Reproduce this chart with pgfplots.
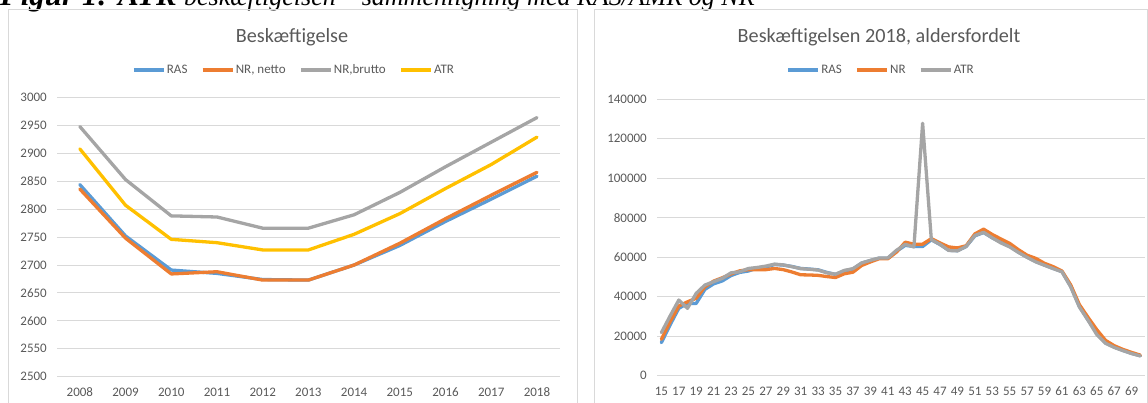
\documentclass[border=0pt]{standalone}
\usepackage{fontspec}
\setmainfont{Carlito}
\newfontfamily\capfont{Liberation Serif}
\usepackage{pgfplots}
\usepackage{pgfplotstable}
\pgfplotsset{compat=1.18}

\definecolor{rasblue}{HTML}{5B9BD5}
\definecolor{nrorange}{HTML}{ED7D31}
\definecolor{nrgrey}{HTML}{A5A5A5}
\definecolor{atryellow}{HTML}{FFC000}
\definecolor{gridgrey}{HTML}{D9D9D9}
\definecolor{txtgrey}{HTML}{595959}

% beskaeftigelse, 1000 personer
\pgfplotstableread{
idx year RAS NRnet NRbrut ATR
0 2008 2844 2836 2948 2908
1 2009 2752 2748 2853 2807
2 2010 2691 2684 2788 2746
3 2011 2685 2688 2786 2740
4 2012 2674 2673 2766 2727
5 2013 2673 2673 2766 2727
6 2014 2700 2700 2790 2755
7 2015 2735 2739 2830 2792
8 2016 2778 2783 2876 2837
9 2017 2818 2825 2920 2880
10 2018 2859 2866 2964 2929
}\beskdata

% 2018 efter alder
\pgfplotstableread{
age RAS NR ATR
15 16700 18400 21800
16 25700 27300 30200
17 34100 35300 38300
18 36600 37400 34100
19 36600 39200 41700
20 43700 45000 45900
21 46500 47900 47600
22 48000 49600 49300
23 50700 51500 52100
24 52300 53100 52600
25 53000 53700 54300
26 54500 53700 54800
27 55000 53700 55500
28 56300 54300 56500
29 56000 53700 56100
30 55300 52500 55200
31 54300 51100 54200
32 54000 51000 53900
33 53600 50800 53500
34 52300 50200 52100
35 51300 49700 51400
36 53000 51600 53300
37 54000 52400 54200
38 57000 55800 57100
39 58300 57600 58400
40 59500 59200 59600
41 59500 59200 59600
42 63000 62600 63500
43 66000 67600 66500
44 65400 66600 65200
45 65400 66600 127800
46 68800 69400 68900
47 66400 67200 66500
48 63500 65200 63400
49 63300 64700 63200
50 65400 65800 65500
51 70800 71800 71000
52 72500 74200 72600
53 69800 71500 69800
54 67500 69200 67200
55 65500 67000 65200
56 62600 63800 62400
57 60000 61000 59900
58 57800 59400 57600
59 56000 56900 55900
60 54300 55200 54200
61 52700 53000 52600
62 45300 46000 45000
63 35000 36000 34800
64 28200 29500 28000
65 21500 23300 20800
66 16600 17900 16400
67 14500 15200 14300
68 12800 13300 12700
69 11300 11800 11200
70 10100 10400 10000
}\aldersdata

\pgfplotsset{
  excel/.style={
    scale only axis,
    axis line style={draw=none},
    tick style={draw=none},
    ymajorgrids,
    major grid style={gridgrey, line width=1pt},
    tick label style={font=\fontsize{13}{15}\selectfont, text=txtgrey},
    yticklabel style={anchor=east, inner sep=0pt, xshift=-10pt,
      /pgf/number format/fixed, /pgf/number format/precision=0},
    xticklabel style={anchor=north, inner sep=0pt, yshift=-11pt,
      /pgf/number format/fixed},
    /pgf/number format/assume math mode=true,
    /pgf/number format/1000 sep={},
    scaled y ticks=false,
    scaled x ticks=false,
    clip=false,
    legend columns=-1,
    legend style={draw=none, fill=none, font=\fontsize{13}{15}\selectfont,
      text=txtgrey, anchor=center, inner sep=0pt,
      nodes={inner sep=1.5pt},
      /tikz/every even column/.append style={column sep=12pt}},
    legend image code/.code={\draw[#1, line cap=butt] (0pt,0pt) -- (30pt,0pt);},
    every axis plot/.append style={line width=3.3pt, line join=round, line cap=round, mark=none},
  }
}

\begin{document}
\begin{tikzpicture}
\path[use as bounding box] (0pt,0pt) rectangle (1148pt,-403pt);
\clip (0pt,0pt) rectangle (1148pt,-403pt);

% figurtekst (afskaaret foroven)
\node[anchor=base west, inner sep=0pt, font=\capfont\fontsize{31}{36}\selectfont\bfseries\itshape]
  at (0pt,-6pt) {Figur 1: ATR};
\node[anchor=base west, inner sep=0pt, font=\capfont\fontsize{26}{30}\selectfont\itshape]
  at (184pt,-6pt) {beskæftigelsen – sammenligning med RAS/AMR og NR};

% rammer
\draw[gridgrey, line width=1pt] (8pt,-10pt) rectangle (577pt,-430pt);
\draw[gridgrey, line width=1pt] (594pt,-10pt) rectangle (1147pt,-430pt);

\node[font=\fontsize{20.2}{24}\selectfont, text=txtgrey] at (292pt,-37pt) {Beskæftigelse};
\node[font=\fontsize{20.2}{24}\selectfont, text=txtgrey] at (879pt,-37pt) {Beskæftigelsen 2018, aldersfordelt};

\begin{axis}[excel,
  at={(57pt,-376.7pt)}, anchor=south west,
  width=502.8pt, height=279.2pt,
  xmin=-0.5, xmax=10.5, ymin=2500, ymax=3000,
  xtick={0,...,10},
  xticklabels={2008,2009,2010,2011,2012,2013,2014,2015,2016,2017,2018},
  ytick distance=50,
  legend style={at={(0.471,1.0985)}},
]
\addplot[rasblue] table[x=idx, y=RAS] {\beskdata};
\addlegendentry{RAS}
\addplot[nrorange] table[x=idx, y=NRnet] {\beskdata};
\addlegendentry{NR, netto}
\addplot[nrgrey] table[x=idx, y=NRbrut] {\beskdata};
\addlegendentry{NR,brutto}
\addplot[atryellow] table[x=idx, y=ATR] {\beskdata};
\addlegendentry{ATR}
\end{axis}

\begin{axis}[excel,
  at={(657pt,-375.7pt)}, anchor=south west,
  width=487.7pt, height=276.5pt,
  xmin=14.5, xmax=70.5, ymin=0, ymax=140000,
  xtick={15,17,...,69},
  ytick distance=20000,
  legend style={at={(0.459,1.1056)}},
]
\addplot[rasblue] table[x=age, y=RAS] {\aldersdata};
\addlegendentry{RAS}
\addplot[nrorange] table[x=age, y=NR] {\aldersdata};
\addlegendentry{NR}
\addplot[nrgrey] table[x=age, y=ATR] {\aldersdata};
\addlegendentry{ATR}
\end{axis}
\end{tikzpicture}
\end{document}
